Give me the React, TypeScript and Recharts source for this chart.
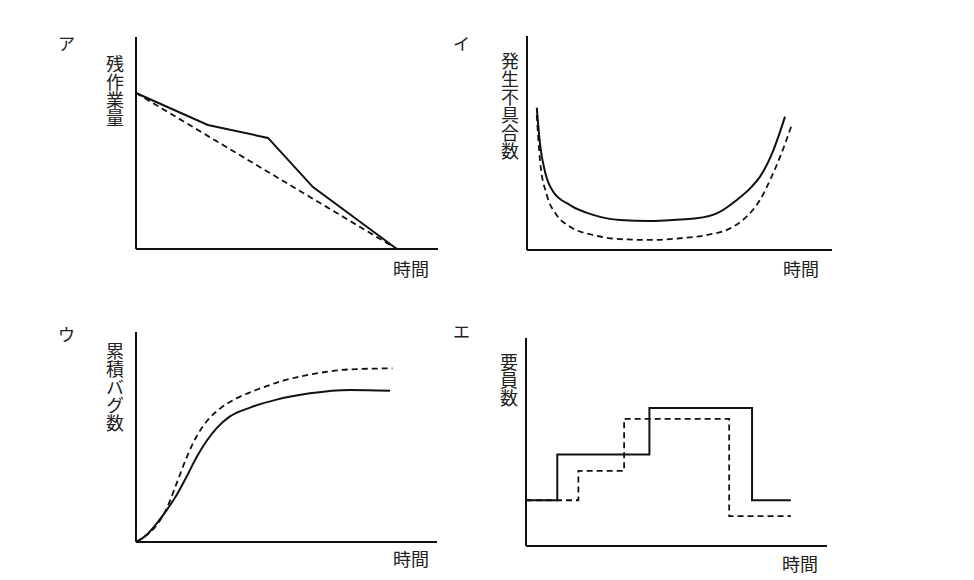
import { LineChart, Line, XAxis, YAxis } from "recharts";

type Pt = [number, number];

// ア: 残作業量 (actual vs plan)
const remainActual: Pt[] = [[0, 73.6], [23.8, 58.5], [43.7, 52.4], [58.6, 29.2], [86.4, 0]];
const remainPlan: Pt[] = [[0, 73.6], [86.4, 0]];

// イ: 発生不具合数 (bathtub curves)
const defectsA: Pt[] = [
  [3.2, 66.5], [4.3, 49.1], [5.9, 36.6], [8.6, 27.2], [14.1, 21.0], [21.7, 16.4], [30.5, 14.0],
  [40.3, 13.6], [50.2, 14.3], [55.6, 14.8], [62.2, 17.1], [68.8, 23.4], [73.7, 29.6],
  [76.4, 34.3], [80.8, 46.7], [84.6, 62.3],
];
const defectsB: Pt[] = [
  [3.2, 63.1], [4.3, 41.3], [6.5, 25.7], [9.7, 16.4], [14.1, 10.9], [21.7, 7.0], [30.5, 5.1],
  [40.3, 4.7], [50.2, 5.5], [58.9, 7.0], [66.6, 10.1], [72.0, 15.6], [76.4, 23.4],
  [79.7, 32.7], [83.0, 43.6], [86.8, 58.4],
];

// ウ: 累積バグ数 (growth curves)
const bugsA: Pt[] = [
  [0, 0], [3.5, 3.3], [6.9, 8.9], [10.2, 15.2], [13.5, 22.4], [16.8, 31.1], [20.2, 40.6],
  [23.5, 48.2], [26.8, 54.2], [31.2, 59.8], [37.9, 64.0], [46.7, 67.8], [57.8, 70.8],
  [71.1, 72.4], [84.4, 72.0],
];
const bugsB: Pt[] = [
  [0, 0], [3.5, 3.3], [6.9, 8.1], [10.2, 16.0], [13.5, 27.9], [16.8, 40.2], [20.2, 50.5],
  [23.5, 57.5], [27.9, 63.5], [33.5, 68.5], [40.1, 72.5], [48.9, 76.8], [60.0, 80.3],
  [71.1, 82.2], [85.2, 82.7],
];

// エ: 要員数 (staffing steps)
const staffA: Pt[] = [[0, 22], [10.4, 44], [41, 66.4], [75.1, 22], [88, 22]];
const staffB: Pt[] = [[0, 22], [17.4, 36.1], [32.6, 61.1], [67.5, 14.4], [88, 14.4]];

const toRows = (pts: Pt[]) => pts.map(([x, y]) => ({ x, y }));

const INK = "#111";
const PAD = 10;
const FONT = "'Noto Sans CJK JP', 'Noto Sans', sans-serif";

type Box = { left: number; top: number; right: number; bottom: number };

function Panel({ box, solid, dashed, curve }: { box: Box; solid: Pt[]; dashed: Pt[]; curve: "linear" | "monotone" | "stepAfter" }) {
  const w = box.right - box.left;
  const h = box.bottom - box.top;
  return (
    <div style={{ position: "absolute", left: box.left - PAD, top: box.top - PAD }}>
      <LineChart width={w + 2 * PAD} height={h + 2 * PAD} margin={{ top: PAD, right: PAD, bottom: PAD - 1, left: PAD - 1 }}>
        <XAxis type="number" dataKey="x" domain={[0, 100]} height={1} tick={false} tickLine={false} axisLine={{ stroke: INK, strokeWidth: 2 }} />
        <YAxis type="number" domain={[0, 100]} width={1} tick={false} tickLine={false} axisLine={{ stroke: INK, strokeWidth: 2 }} />
        <Line data={toRows(dashed)} dataKey="y" type={curve} stroke={INK} strokeWidth={1.8} strokeDasharray="6 4" dot={false} isAnimationActive={false} />
        <Line data={toRows(solid)} dataKey="y" type={curve} stroke={INK} strokeWidth={2} dot={false} isAnimationActive={false} />
      </LineChart>
    </div>
  );
}

function Txt({ left, top, text, size = 18, vertical = false }: { left: number; top: number; text: string; size?: number; vertical?: boolean }) {
  return (
    <div
      style={{
        position: "absolute",
        left,
        top,
        fontSize: size,
        lineHeight: 1,
        color: "#222",
        whiteSpace: "nowrap",
        writingMode: vertical ? "vertical-rl" : "horizontal-tb",
      }}
    >
      {text}
    </div>
  );
}

export default function App() {
  return (
    <div style={{ position: "absolute", left: 0, top: 0, width: 974, height: 580, background: "#fff", fontFamily: FONT }}>
      <Panel box={{ left: 136, top: 37, right: 438, bottom: 249 }} solid={remainActual} dashed={remainPlan} curve="linear" />
      <Panel box={{ left: 527, top: 36, right: 832, bottom: 250 }} solid={defectsA} dashed={defectsB} curve="monotone" />
      <Panel box={{ left: 136, top: 332, right: 437, bottom: 542 }} solid={bugsA} dashed={bugsB} curve="monotone" />
      <Panel box={{ left: 526, top: 338, right: 827, bottom: 546 }} solid={staffA} dashed={staffB} curve="stepAfter" />

      <Txt left={58} top={34} text="ア" size={17} />
      <Txt left={106} top={55} text="残作業量" vertical />
      <Txt left={393} top={259} text="時間" />

      <Txt left={453} top={34} text="イ" size={17} />
      <Txt left={501} top={52} text="発生不具合数" vertical />
      <Txt left={783} top={259} text="時間" />

      <Txt left={58} top={325} text="ウ" size={17} />
      <Txt left={106} top={342} text="累積バグ数" vertical />
      <Txt left={393} top={549} text="時間" />

      <Txt left={453} top={322} text="エ" size={17} />
      <Txt left={500} top={353} text="要員数" vertical />
      <Txt left={782} top={554} text="時間" />
    </div>
  );
}
